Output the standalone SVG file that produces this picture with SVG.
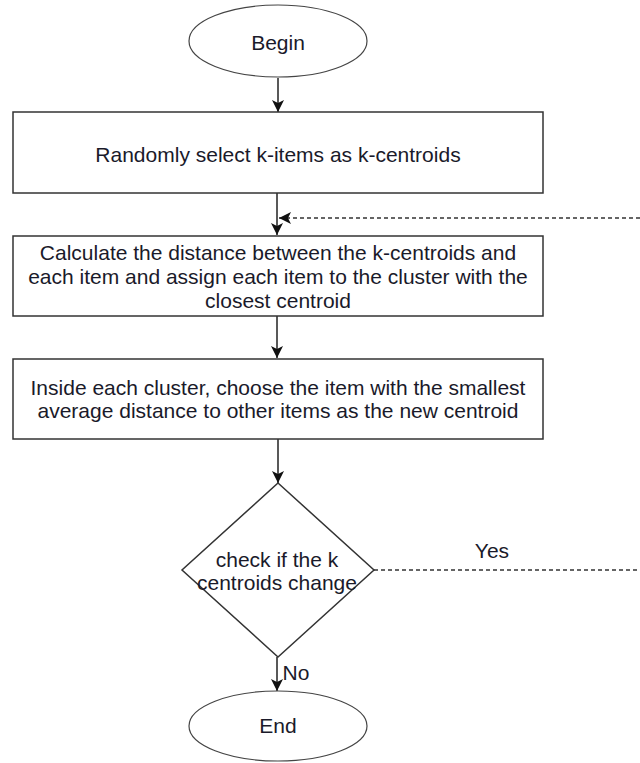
<svg xmlns="http://www.w3.org/2000/svg" width="640" height="763" viewBox="0 0 640 763">
  <style>
    .shape { fill: #ffffff; stroke: #333333; stroke-width: 1.5; }
    .oval { fill: #ffffff; stroke: #444444; stroke-width: 1.2; }
    .label { font-family: "Liberation Sans", Arial, sans-serif; font-size: 21px; fill: #1a1a2a; text-anchor: middle; }
    .flow { fill: none; stroke: #222222; stroke-width: 1.5; }
    .loop { fill: none; stroke: #333333; stroke-width: 1.5; stroke-dasharray: 4 3; }
  </style>
  <defs>
    <marker id="arrow" markerUnits="userSpaceOnUse" markerWidth="12" markerHeight="12" viewBox="0 0 12 12" refX="12" refY="6" orient="auto">
      <path d="M0,0 L12,6 L0,12 L3,6 Z" fill="#111111"/>
    </marker>
  </defs>

  <!-- connectors -->
  <g id="connectors">
    <line class="flow" x1="278" y1="78" x2="278" y2="112" marker-end="url(#arrow)"/>
    <line class="flow" x1="277" y1="193" x2="277" y2="235" marker-end="url(#arrow)"/>
    <line class="loop" x1="640" y1="218" x2="279" y2="218" marker-end="url(#arrow)"/>
    <line class="flow" x1="277" y1="316" x2="277" y2="358" marker-end="url(#arrow)"/>
    <line class="flow" x1="278" y1="439" x2="278" y2="483" marker-end="url(#arrow)"/>
    <line class="loop" x1="374" y1="570" x2="640" y2="570"/>
    <text class="label" x="492" y="558">Yes</text>
    <line class="flow" x1="277" y1="657" x2="277" y2="691" marker-end="url(#arrow)"/>
    <text class="label" x="296" y="680">No</text>
  </g>

  <g id="begin">
    <ellipse class="oval" cx="278" cy="41" rx="89" ry="36"/>
    <text class="label" x="278" y="50">Begin</text>
  </g>

  <g id="select">
    <rect class="shape" x="13" y="112" width="530" height="81"/>
    <text class="label" x="278" y="162">Randomly select k-items as k-centroids</text>
  </g>

  <g id="assign">
    <rect class="shape" x="13" y="236" width="530" height="80"/>
    <text class="label" x="278" y="260">Calculate the distance between the k-centroids and</text>
    <text class="label" x="278" y="284">each item and assign each item to the cluster with the</text>
    <text class="label" x="278" y="308">closest centroid</text>
  </g>

  <g id="update">
    <rect class="shape" x="13" y="359" width="530" height="80"/>
    <text class="label" x="278" y="395">Inside each cluster, choose the item with the smallest</text>
    <text class="label" x="278" y="418">average distance to other items as the new centroid</text>
  </g>

  <g id="check">
    <polygon class="shape" points="278,483 374,570 278,657 182,570"/>
    <text class="label" x="277" y="567">check if the k</text>
    <text class="label" x="277" y="590">centroids change</text>
  </g>

  <g id="end">
    <ellipse class="oval" cx="278" cy="726" rx="89" ry="35"/>
    <text class="label" x="278" y="733">End</text>
  </g>
</svg>
